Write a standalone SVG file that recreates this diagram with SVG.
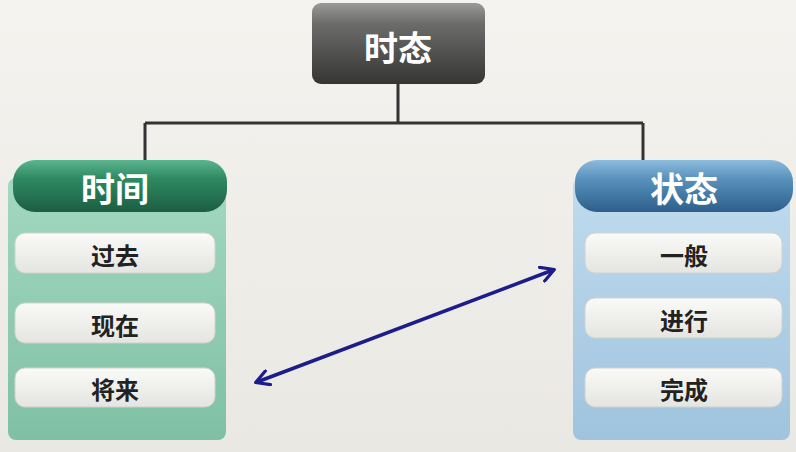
<svg xmlns="http://www.w3.org/2000/svg" width="796" height="452" viewBox="0 0 796 452">
<defs>
<linearGradient id="bg" x1="0" y1="0" x2="0" y2="1"><stop offset="0" stop-color="#f4f3ef"/><stop offset="1" stop-color="#e9e8e3"/></linearGradient>
<linearGradient id="topg" x1="0" y1="0" x2="0" y2="1"><stop offset="0" stop-color="#9a9a98"/><stop offset="0.25" stop-color="#6c6c6a"/><stop offset="1" stop-color="#353534"/></linearGradient>
<linearGradient id="ghead" x1="0" y1="0" x2="0" y2="1"><stop offset="0" stop-color="#5bb690"/><stop offset="0.35" stop-color="#2f8a62"/><stop offset="1" stop-color="#1b5e41"/></linearGradient>
<linearGradient id="gbody" x1="0" y1="0" x2="0" y2="1"><stop offset="0" stop-color="#a3d8c0"/><stop offset="1" stop-color="#7fc0a3"/></linearGradient>
<linearGradient id="bhead" x1="0" y1="0" x2="0" y2="1"><stop offset="0" stop-color="#8dbcdc"/><stop offset="0.35" stop-color="#5a92be"/><stop offset="1" stop-color="#2c5f8a"/></linearGradient>
<linearGradient id="bbody" x1="0" y1="0" x2="0" y2="1"><stop offset="0" stop-color="#c0dbee"/><stop offset="1" stop-color="#a0c4de"/></linearGradient>
<linearGradient id="item" x1="0" y1="0" x2="0" y2="1"><stop offset="0" stop-color="#fafaf8"/><stop offset="1" stop-color="#e4e4e0"/></linearGradient>
<marker id="ah" viewBox="0 0 12 12" refX="9" refY="6" markerWidth="5" markerHeight="5" orient="auto-start-reverse" markerUnits="strokeWidth">
<path d="M1,1 L10,6 L1,11" fill="none" stroke="#1c1c8a" stroke-width="2.2" stroke-linecap="round" stroke-linejoin="round"/>
</marker>
<style>
.hd{font-family:"Noto Sans CJK SC","Noto Sans",sans-serif;font-weight:bold;font-size:34px;fill:#ffffff;text-anchor:middle;dominant-baseline:central}
.it{font-family:"Noto Sans CJK SC","Noto Sans",sans-serif;font-weight:bold;font-size:24px;fill:#222;text-anchor:middle;dominant-baseline:central}
.itbox{fill:url(#item);stroke:#d2d2cc;stroke-width:1}
.ln{fill:none;stroke:#333;stroke-width:3}
</style>
</defs>
<rect width="796" height="452" fill="url(#bg)"/>
<g id="connectors">
<path class="ln" d="M398,84 V123 M145,123 H643 M145,123 V163 M643,123 V163"/>
<line x1="257" y1="382" x2="553" y2="270" stroke="#1c1c8a" stroke-width="3.5" marker-start="url(#ah)" marker-end="url(#ah)"/>
</g>
<g id="node-shitai">
<rect x="312" y="3" width="173" height="81" rx="9" fill="url(#topg)"/>
<text class="hd" x="398" y="46">时态</text>
</g>
<g id="node-shijian">
<rect x="8" y="178" width="218" height="262" rx="8" fill="url(#gbody)"/>
<rect x="13" y="160" width="214" height="52" rx="22" fill="url(#ghead)"/>
<text class="hd" x="115" y="187">时间</text>
<g id="item-guoqu"><rect class="itbox" x="15" y="233" width="200" height="40" rx="10"/><text class="it" x="115" y="254">过去</text></g>
<g id="item-xianzai"><rect class="itbox" x="15" y="303" width="200" height="40" rx="10"/><text class="it" x="115" y="324">现在</text></g>
<g id="item-jianglai"><rect class="itbox" x="15" y="368" width="200" height="39" rx="10"/><text class="it" x="115" y="388">将来</text></g>
</g>
<g id="node-zhuangtai">
<rect x="573" y="178" width="217" height="262" rx="8" fill="url(#bbody)"/>
<rect x="575" y="160" width="218" height="52" rx="22" fill="url(#bhead)"/>
<text class="hd" x="684" y="187">状态</text>
<g id="item-yiban"><rect class="itbox" x="585" y="233" width="197" height="40" rx="10"/><text class="it" x="684" y="254">一般</text></g>
<g id="item-jinxing"><rect class="itbox" x="585" y="298" width="197" height="40" rx="10"/><text class="it" x="684" y="319">进行</text></g>
<g id="item-wancheng"><rect class="itbox" x="585" y="368" width="197" height="39" rx="10"/><text class="it" x="684" y="388">完成</text></g>
</g>
</svg>
